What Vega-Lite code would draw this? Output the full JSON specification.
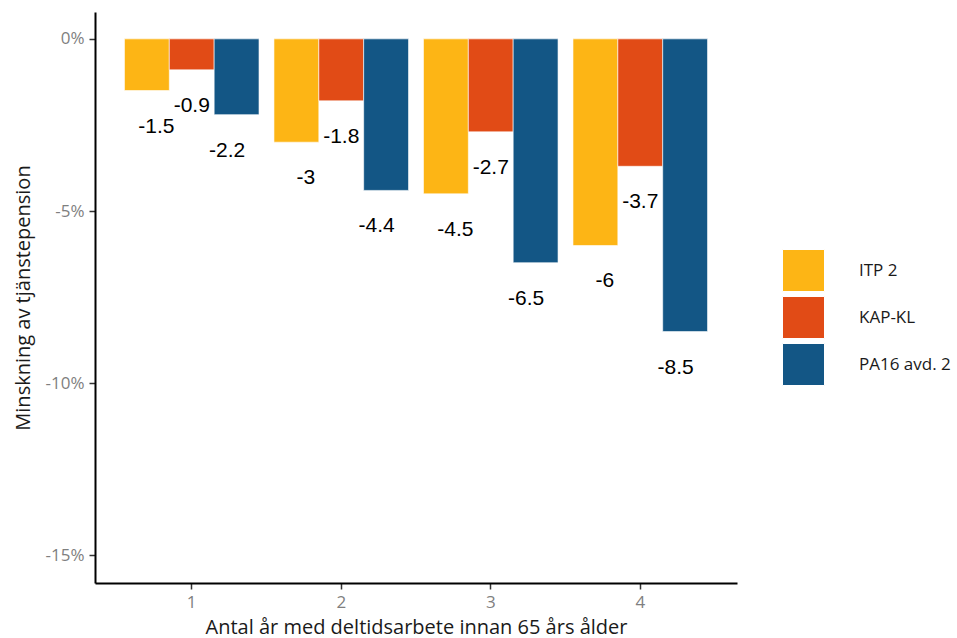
{
  "$schema": "https://vega.github.io/schema/vega-lite/v6.json",
  "width": 642,
  "height": 571,
  "autosize": {"type": "none"},
  "padding": {"left": 95, "top": 12, "right": 220, "bottom": 55},
  "background": "white",
  "config": {
    "view": {"stroke": null},
    "font": "Open Sans"
  },
  "data": {
    "values": [
      {"ar": "1", "plan": "ITP 2", "v": -1.5, "lab": "-1.5"},
      {"ar": "1", "plan": "KAP-KL", "v": -0.9, "lab": "-0.9"},
      {"ar": "1", "plan": "PA16 avd. 2", "v": -2.2, "lab": "-2.2"},
      {"ar": "2", "plan": "ITP 2", "v": -3.0, "lab": "-3"},
      {"ar": "2", "plan": "KAP-KL", "v": -1.8, "lab": "-1.8"},
      {"ar": "2", "plan": "PA16 avd. 2", "v": -4.4, "lab": "-4.4"},
      {"ar": "3", "plan": "ITP 2", "v": -4.5, "lab": "-4.5"},
      {"ar": "3", "plan": "KAP-KL", "v": -2.7, "lab": "-2.7"},
      {"ar": "3", "plan": "PA16 avd. 2", "v": -6.5, "lab": "-6.5"},
      {"ar": "4", "plan": "ITP 2", "v": -6.0, "lab": "-6"},
      {"ar": "4", "plan": "KAP-KL", "v": -3.7, "lab": "-3.7"},
      {"ar": "4", "plan": "PA16 avd. 2", "v": -8.5, "lab": "-8.5"}
    ]
  },
  "encoding": {
    "x": {
      "field": "ar", "type": "nominal",
      "scale": {"paddingInner": 0.1, "paddingOuter": 0.197},
      "axis": {
        "title": "Antal år med deltidsarbete innan 65 års ålder",
        "labelAngle": 0, "labelFontSize": 17, "labelColor": "#7f7f7f",
        "labelPadding": 5, "tickColor": "#333333", "tickSize": 6, "tickWidth": 1.5,
        "domainColor": "#000000", "domainWidth": 2,
        "titleFontSize": 20, "titleFontWeight": "normal", "titleColor": "#1a1a1a",
        "titlePadding": 7, "grid": false
      }
    },
    "y": {
      "field": "v", "type": "quantitative",
      "scale": {"domain": [-15.8, 0.78], "nice": false, "zero": false},
      "axis": {
        "title": "Minskning av tjänstepension",
        "values": [0, -5, -10, -15],
        "labelExpr": "datum.value + '%'",
        "labelFontSize": 17, "labelColor": "#7f7f7f", "labelPadding": 5,
        "tickColor": "#333333", "tickSize": 6, "tickWidth": 1.5,
        "domainColor": "#000000", "domainWidth": 2,
        "titleFontSize": 20, "titleFontWeight": "normal", "titleColor": "#1a1a1a",
        "titlePadding": 12, "grid": false
      }
    }
  },
  "layer": [
    {
      "mark": {"type": "bar", "stroke": "white", "strokeWidth": 0.6},
      "encoding": {
        "xOffset": {"field": "plan", "type": "nominal", "scale": {"paddingInner": 0, "paddingOuter": 0}},
        "y2": {"datum": 0},
        "color": {
          "field": "plan", "type": "nominal",
          "scale": {"domain": ["ITP 2", "KAP-KL", "PA16 avd. 2"], "range": ["#FDB515", "#E14B16", "#135685"]},
          "legend": {
            "title": null, "orient": "none", "legendX": 687, "legendY": 237,
            "symbolType": "square", "symbolSize": 1764, "symbolStrokeColor": "white",
            "symbolStrokeWidth": 1, "symbolOpacity": 1,
            "labelFontSize": 17, "labelColor": "#1a1a1a", "labelOffset": 34,
            "rowPadding": 0
          }
        }
      }
    },
    {
      "mark": {"type": "text", "font": "Liberation Sans", "fontSize": 21, "color": "#000000", "baseline": "middle", "dy": 36},
      "encoding": {
        "xOffset": {"field": "plan", "type": "nominal", "scale": {"paddingInner": 0, "paddingOuter": 0.9}},
        "text": {"field": "lab", "type": "nominal"}
      }
    }
  ],
  "resolve": {"scale": {"xOffset": "independent"}}
}
